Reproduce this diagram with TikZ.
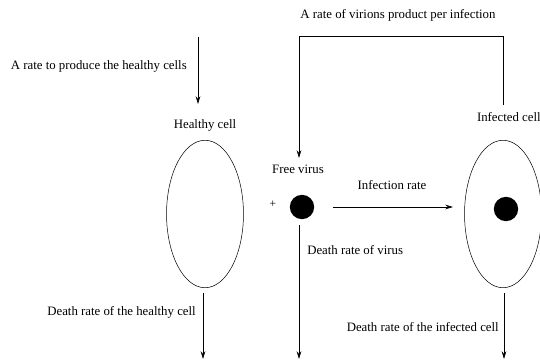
\documentclass[tikz,border=0pt]{standalone}
\usepackage{fontspec}
\setmainfont{Liberation Serif}
\usetikzlibrary{arrows.meta,positioning,shapes.geometric}

\begin{document}
\begin{tikzpicture}[
  x=0.78pt, y=-0.78pt,
  font=\fontsize{10}{12}\selectfont,
  cell/.style={draw, ellipse, thin, minimum width=60pt, minimum height=115pt, inner sep=0pt},
  dot/.style={circle, fill=black, minimum size=19pt, inner sep=0pt},
  lbl/.style={inner sep=0pt},
  arr/.style={-{Stealth[length=6pt, width=3.6pt]}, line width=0.6pt},
  link/.style={line width=0.6pt},
]
  \useasboundingbox (0,0) rectangle (540,360);

  % cells and viruses
  \node[cell] (healthy) at (205,214) {};
  \node[cell] (infected) at (503,214) {};
  \node[dot] (virus) at (302,207) {};
  \node[dot] (invirus) at (506,209) {};

  % labels
  \node[lbl] (healthylbl) at (205,125) {Healthy cell};
  \node[lbl, anchor=east] (infectedlbl) at (541,117) {Infected cell};
  \node[lbl] (viruslbl) at (298,169) {Free virus};
  \node[lbl, font=\fontsize{9}{10}\selectfont] (plus) at (273,204) {+};
  \node[lbl, anchor=east] (prodlbl) at (187,66) {A rate to produce the healthy cells};
  \node[lbl] (virionlbl) at (398,15) {A rate of virions product per infection};
  \node[lbl] (inflbl) at (392,185) {Infection rate};
  \node[lbl, anchor=west] (vdeathlbl) at (307,250) {Death rate of virus};
  \node[lbl, anchor=east] (hdeathlbl) at (196,312) {Death rate of the healthy cell};
  \node[lbl, anchor=east] (ideathlbl) at (499,327) {Death rate of the infected cell};

  % free ends
  \coordinate (prodtop) at (198,37);
  \coordinate (prodend) at (198,104);
  \coordinate (infout) at (503,105);
  \coordinate (cornerR) at (503,36);
  \coordinate (cornerL) at (299,36);
  \coordinate (virusin) at (299,158);
  \coordinate (infstart) at (333,207);
  \coordinate (infend) at (453,207);
  \coordinate (hdeathtop) at (203,293);
  \coordinate (hdeathend) at (203,359);
  \coordinate (vdeathtop) at (299,225);
  \coordinate (vdeathend) at (299,359);
  \coordinate (ideathtop) at (504,293);
  \coordinate (ideathend) at (504,359);

  \draw[arr] (prodtop) -- (prodend);
  \draw[arr] (infout) -- (cornerR) -- (cornerL) -- (virusin);
  \draw[arr] (infstart) -- (infend);
  \draw[arr] (hdeathtop) -- (hdeathend);
  \draw[arr] (vdeathtop) -- (vdeathend);
  \draw[arr] (ideathtop) -- (ideathend);
\end{tikzpicture}
\end{document}
